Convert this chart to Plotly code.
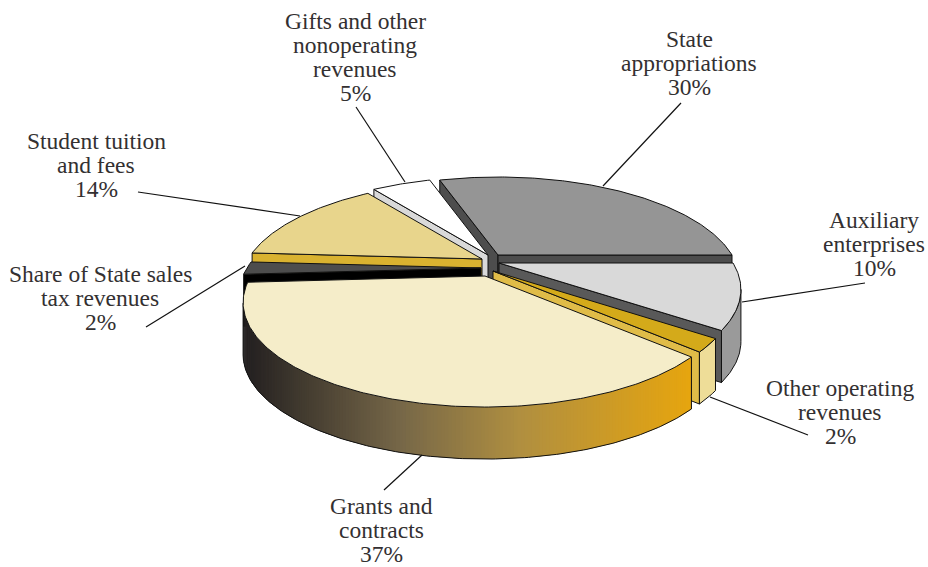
import math
import plotly.graph_objects as go

# Revenue shares, clockwise from the first slice
categories = ["State appropriations", "Auxiliary enterprises", "Other operating revenues",
              "Grants and contracts", "Share of State sales tax revenues",
              "Student tuition and fees", "Gifts and other nonoperating revenues"]
shares = [30, 10, 2, 37, 2, 14, 5]
label_lines = [["State", "appropriations"], ["Auxiliary", "enterprises"], ["Other operating", "revenues"],
               ["Grants and", "contracts"], ["Share of State sales", "tax revenues"],
               ["Student tuition", "and fees"], ["Gifts and other", "nonoperating", "revenues"]]

# Layout of the exploded disc, in page units
START_DEG = -18
RADIUS_X, RADIUS_Y, TILT, DEPTH = 234, 97.8, 0.2537, 52
HUB = {0: (498, 255), 1: (499, 263), 2: (493, 271), 3: (485, 276), 4: (481, 268), 5: (482, 259), 6: (488, 255)}
PAINT_ORDER = [0, 6, 5, 4, 1, 2, 3]

TOP = ["#959595", "#d9d9d9", "#d4aa1a", "#f5edc9", "#4d4d4d", "#e8d58c", "#ffffff"]
START_WALL = ["#4d4d4d", "#595959", "#595959", "#231f20", "#000000", "#d9b230", "#d9d9d9"]
END_WALL = ["#4d4d4d", "#595959", "#e0bc48", "#231f20", "#000000", "#d9b230", "#d9d9d9"]
RIM = ["#777777", "#9a9a9a", "#eedd98", None, "#000000", "#d9b230", "#d9d9d9"]
RIM_STOPS = [(243, (34, 31, 32)), (400, (118, 103, 72)), (520, (176, 143, 64)), (690, (230, 165, 15))]

LABEL_X = [689, 874, 840, 381, 100, 96, 355]
LABEL_Y = [39, 220, 388, 506, 274, 141, 21]
LINE_STEP = 24
LEADERS = [((681, 103), (603, 186)), ((865, 283), (742, 302)), ((808, 435), (710, 397)),
           ((384, 490), (422, 455)), ((146, 327), (245, 266)), ((138, 192), (300, 216)),
           ((356, 107), (405, 182))]


def project(deg, hub):
    """Point on the tilted disc rim for a clockwise angle measured from the far side."""
    a = math.radians(deg)
    u, v = math.sin(a), -math.cos(a)
    w = 1 - TILT * v
    return hub[0] + RADIUS_X * u / w, hub[1] + RADIUS_Y * v / w


def rim_colour(x):
    for (x0, c0), (x1, c1) in zip(RIM_STOPS, RIM_STOPS[1:]):
        if x <= x1:
            t = max(0, (x - x0) / (x1 - x0))
            return "rgb(%d,%d,%d)" % tuple(round(p + (q - p) * t) for p, q in zip(c0, c1))
    return "rgb(%d,%d,%d)" % RIM_STOPS[-1][1]


fig = go.Figure()


def polygon(points, fill, edge="#111111", width=1.0):
    fig.add_trace(go.Scatter(
        x=[p[0] for p in points] + [points[0][0]],
        y=[p[1] for p in points] + [points[0][1]],
        mode="lines", fill="toself", fillcolor=fill,
        line=dict(color=edge, width=width), hoverinfo="skip", showlegend=False))


def stroke(points, colour="#111111", width=1.0):
    fig.add_trace(go.Scatter(
        x=[p[0] for p in points], y=[p[1] for p in points], mode="lines",
        line=dict(color=colour, width=width), hoverinfo="skip", showlegend=False))


def lowered(p):
    return p[0], p[1] + DEPTH


edges = [START_DEG]
for share in shares:
    edges.append(edges[-1] + share * 3.6)

for i in PAINT_ORDER:
    hub = HUB[i]
    a0, a1 = edges[i], edges[i + 1]
    steps = max(6, int((a1 - a0) * 1.5))
    arc = [project(a0 + (a1 - a0) * k / steps, hub) for k in range(steps + 1)]

    # Cut faces, only where they turn towards the viewer
    if arc[0][0] < hub[0]:
        polygon([hub, arc[0], lowered(arc[0]), lowered(hub)], START_WALL[i])
    if arc[-1][0] > hub[0]:
        polygon([hub, arc[-1], lowered(arc[-1]), lowered(hub)], END_WALL[i])

    # Outer face: the part of the rim running right to left along the front
    front = [k for k in range(steps) if arc[k + 1][0] < arc[k][0]]
    if front:
        band = arc[front[0]:front[-1] + 2]
        if RIM[i] is None:
            # Shaded rim: each strip runs under the next one so no seams show
            for k, (p, q) in enumerate(zip(band, band[1:])):
                r = band[min(k + 2, len(band) - 1)]
                c = rim_colour((p[0] + q[0]) / 2)
                polygon([p, r, lowered(r), lowered(p)], c, edge=c, width=0)
            stroke([lowered(p) for p in band])
            stroke([band[0], lowered(band[0])])
            stroke([band[-1], lowered(band[-1])])
        else:
            polygon(band + [lowered(p) for p in reversed(band)], RIM[i])

    polygon([hub] + arc, TOP[i])

annotations = []
for i, (lines, share) in enumerate(zip(label_lines, shares)):
    stroke(LEADERS[i], width=1.2)
    for n, text in enumerate(lines + [f"{share}%"]):
        annotations.append(dict(
            x=LABEL_X[i], y=LABEL_Y[i] + n * LINE_STEP, text=text, showarrow=False,
            xanchor="center", yanchor="middle",
            font=dict(family="Liberation Serif", size=23.5, color="#333031")))

fig.update_layout(
    width=928, height=567, margin=dict(l=0, r=0, t=0, b=0),
    paper_bgcolor="white", plot_bgcolor="white", annotations=annotations,
    xaxis=dict(range=[0, 928], visible=False, fixedrange=True),
    yaxis=dict(range=[567, 0], visible=False, fixedrange=True))
fig.write_html("out.html", config=dict(displayModeBar=False))
